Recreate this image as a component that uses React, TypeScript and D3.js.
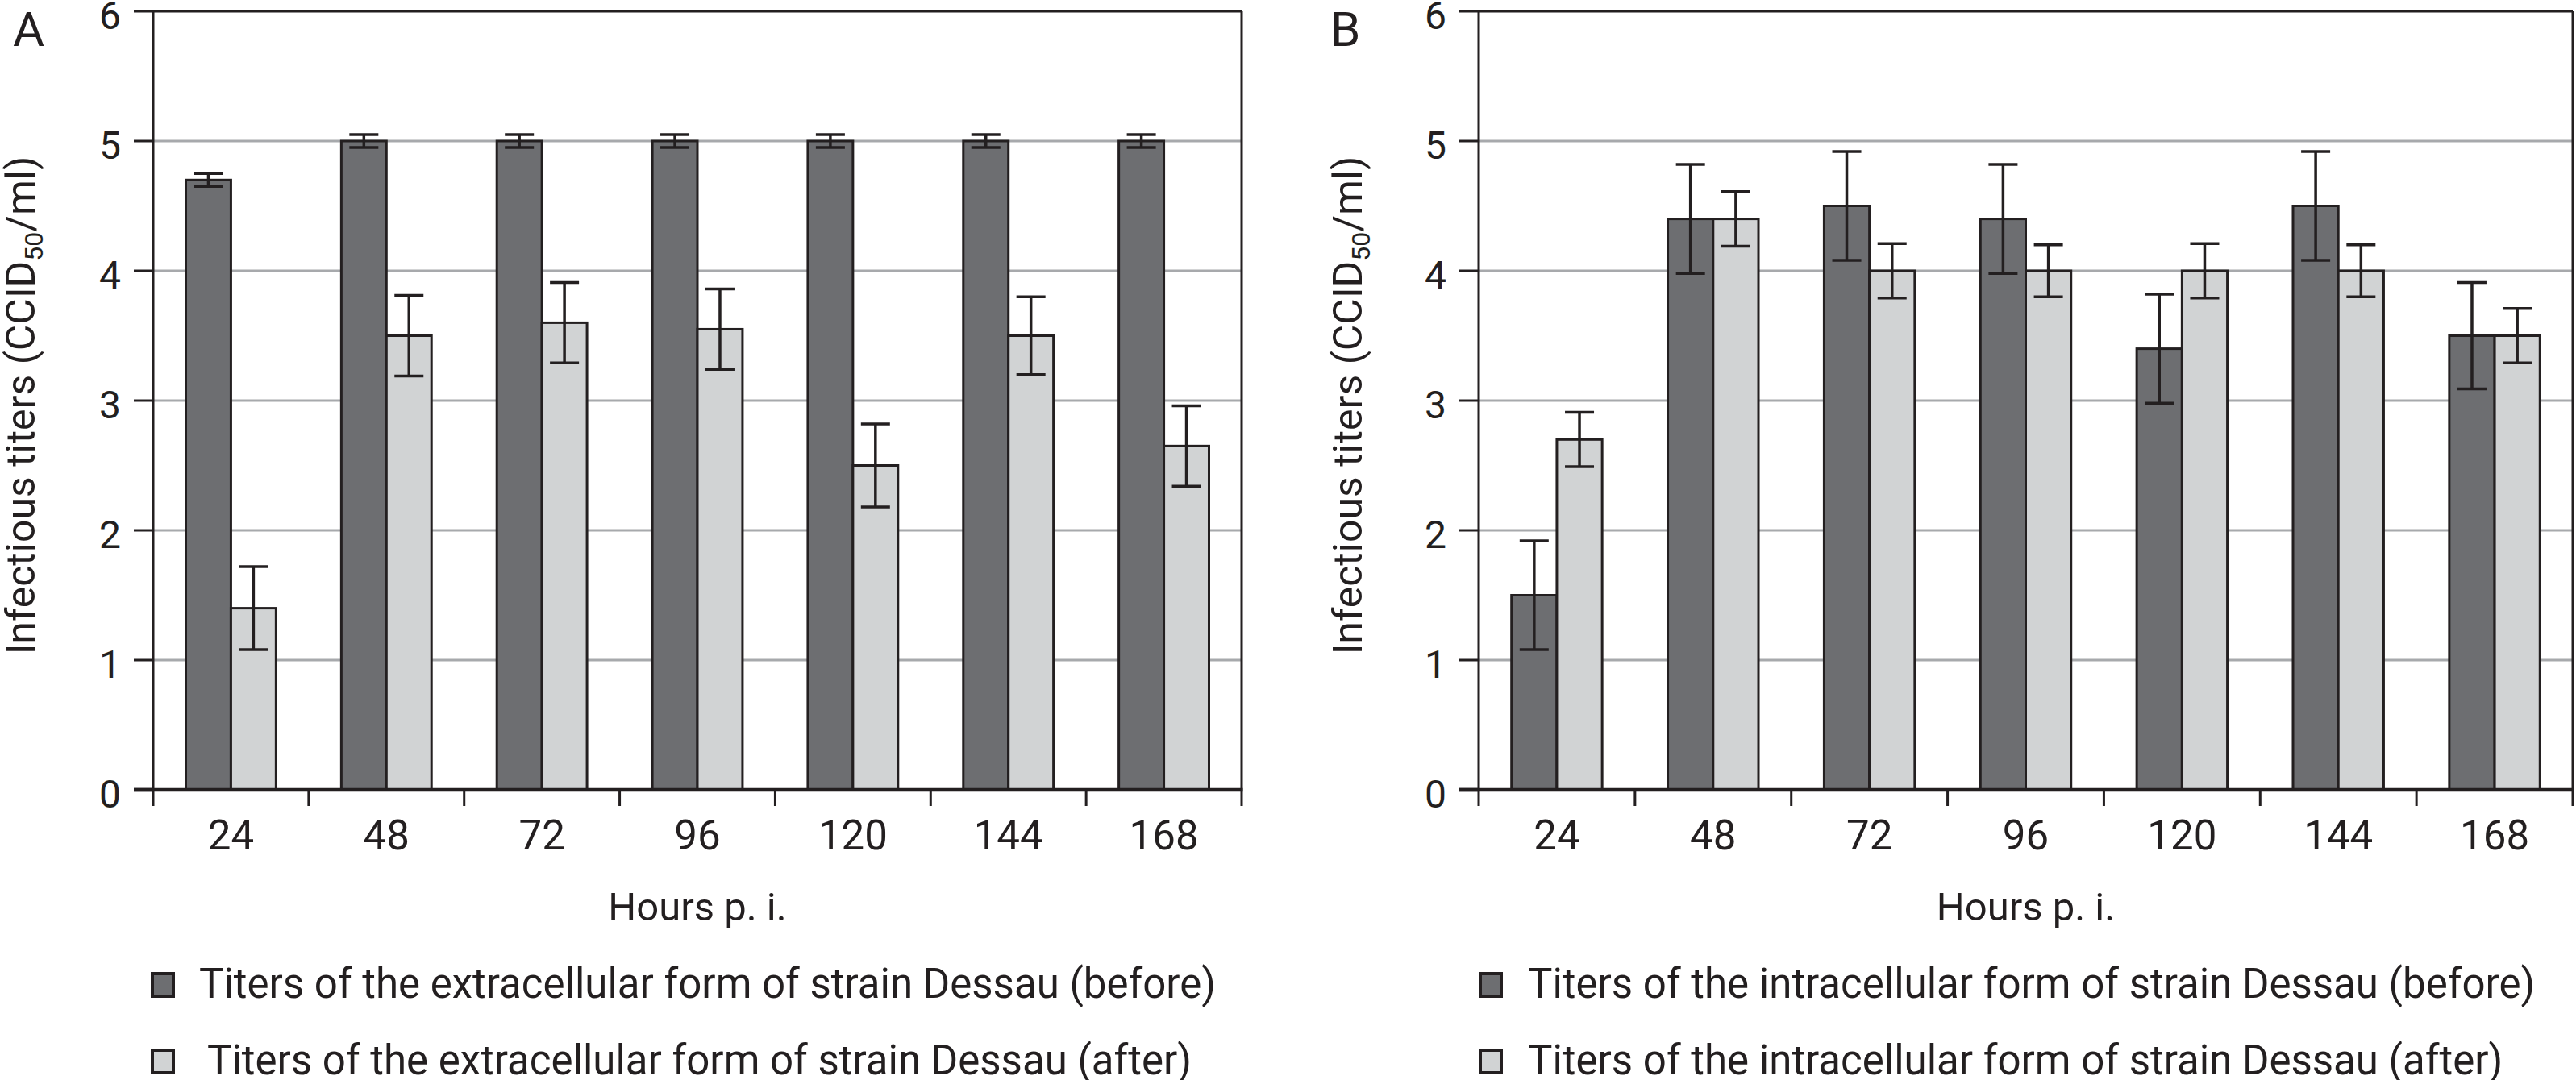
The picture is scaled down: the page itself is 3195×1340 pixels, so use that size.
import React from "react";
import * as d3 from "d3";

const HOURS = ["24", "48", "72", "96", "120", "144", "168"];
const Y_TICKS = [0, 1, 2, 3, 4, 5, 6];
const GRID_VALUES = [1, 2, 3, 4, 5];

const extraBefore = [4.7, 5.0, 5.0, 5.0, 5.0, 5.0, 5.0];
const extraBeforeErr = [0.05, 0.05, 0.05, 0.05, 0.05, 0.05, 0.05];
const extraAfter = [1.4, 3.5, 3.6, 3.55, 2.5, 3.5, 2.65];
const extraAfterErr = [0.32, 0.31, 0.31, 0.31, 0.32, 0.3, 0.31];

const intraBefore = [1.5, 4.4, 4.5, 4.4, 3.4, 4.5, 3.5];
const intraBeforeErr = [0.42, 0.42, 0.42, 0.42, 0.42, 0.42, 0.41];
const intraAfter = [2.7, 4.4, 4.0, 4.0, 4.0, 4.0, 3.5];
const intraAfterErr = [0.21, 0.21, 0.21, 0.2, 0.21, 0.2, 0.21];

const LEGEND_A = [
  "Titers of the extracellular form of strain Dessau (before)",
  "Titers of the extracellular form of strain Dessau (after)",
];
const LEGEND_B = [
  "Titers of the intracellular form of strain Dessau (before)",
  "Titers of the intracellular form of strain Dessau (after)",
];

const INK = "#231f20";
const DARK = "#6d6e71";
const LIGHT = "#d1d3d4";
const GRID = "#a7a9ac";
const FONT = "Roboto, 'Open Sans', sans-serif";

type PanelProps = {
  letter: string;
  letterX: number;
  titleX: number;
  left: number;
  right: number;
  before: number[];
  beforeErr: number[];
  after: number[];
  afterErr: number[];
  legend: string[];
  legendSquareX: number;
  legendTextX: number[];
};

function Panel(p: PanelProps) {
  const top = 14;
  const bottom = 980;
  const x = d3.scaleBand<string>().domain(HOURS).range([p.left, p.right]).padding(0);
  const y = d3.scaleLinear().domain([0, 6]).range([bottom, top]);
  const bw = x.bandwidth() * 0.29;
  const cap = 18;
  const series = [
    { vals: p.before, errs: p.beforeErr, fill: DARK, off: -bw },
    { vals: p.after, errs: p.afterErr, fill: LIGHT, off: 0 },
  ];
  const tickLen = 24;
  const boundaries = [...HOURS.map((h) => x(h) as number), p.right];

  return (
    <g>
      <text x={p.letterX} y={57} fontSize={60} fontFamily={FONT} fill={INK}>
        {p.letter}
      </text>
      {GRID_VALUES.map((v) => (
        <line key={v} x1={p.left} x2={p.right} y1={y(v)} y2={y(v)} stroke={GRID} strokeWidth={3} />
      ))}
      {series.map((s, si) =>
        HOURS.map((h, i) => {
          const cx = (x(h) as number) + x.bandwidth() / 2;
          return (
            <rect
              key={`b${si}-${i}`}
              x={cx + s.off}
              y={y(s.vals[i])}
              width={bw}
              height={y(0) - y(s.vals[i])}
              fill={s.fill}
              stroke={INK}
              strokeWidth={3}
            />
          );
        })
      )}
      {series.map((s, si) =>
        HOURS.map((h, i) => {
          const cx = (x(h) as number) + x.bandwidth() / 2 + s.off + bw / 2;
          const hi = y(s.vals[i] + s.errs[i]);
          const lo = y(s.vals[i] - s.errs[i]);
          return (
            <g key={`e${si}-${i}`} stroke={INK} strokeWidth={3.5}>
              <line x1={cx} x2={cx} y1={hi} y2={lo} />
              <line x1={cx - cap} x2={cx + cap} y1={hi} y2={hi} />
              <line x1={cx - cap} x2={cx + cap} y1={lo} y2={lo} />
            </g>
          );
        })
      )}
      <line x1={p.left} x2={p.left} y1={top} y2={bottom} stroke={INK} strokeWidth={3} />
      <line x1={p.right} x2={p.right} y1={top} y2={bottom} stroke={INK} strokeWidth={3} />
      <line x1={p.left} x2={p.right} y1={top} y2={top} stroke={INK} strokeWidth={3} />
      <line x1={p.left - tickLen} x2={p.right + 1.5} y1={bottom} y2={bottom} stroke={INK} strokeWidth={4.5} />
      {Y_TICKS.map((v) => (
        <g key={`yt${v}`}>
          <line x1={p.left - tickLen} x2={p.left} y1={y(v)} y2={y(v)} stroke={INK} strokeWidth={v === 0 ? 4.5 : 3} />
          <text
            x={p.left - 40}
            y={y(v) + 22}
            textAnchor="end"
            fontSize={48}
            fontFamily={FONT}
            fill={INK}
          >
            {v}
          </text>
        </g>
      ))}
      {boundaries.map((bx, i) => (
        <line key={`xt${i}`} x1={bx} x2={bx} y1={bottom} y2={bottom + 20} stroke={INK} strokeWidth={3} />
      ))}
      {HOURS.map((h) => (
        <text
          key={`xl${h}`}
          x={(x(h) as number) + x.bandwidth() / 2}
          y={1054}
          textAnchor="middle"
          fontSize={51}
          fontFamily={FONT}
          fill={INK}
        >
          {h}
        </text>
      ))}
      <text
        x={(p.left + p.right) / 2}
        y={1142}
        textAnchor="middle"
        fontSize={49}
        fontFamily={FONT}
        fill={INK}
      >
        Hours p. i.
      </text>
      <text
        transform={`translate(${p.titleX},${503}) rotate(-90)`}
        textAnchor="middle"
        fontSize={50}
        fontFamily={FONT}
        fill={INK}
      >
        Infectious titers (CCID
        <tspan fontSize={32} dy={10}>
          50
        </tspan>
        <tspan dy={-10}>/ml)</tspan>
      </text>
      {p.legend.map((t, i) => (
        <g key={`lg${i}`}>
          <rect
            x={p.legendSquareX}
            y={1208 + i * 95}
            width={26}
            height={28}
            fill={i === 0 ? DARK : LIGHT}
            stroke={INK}
            strokeWidth={4}
          />
          <text
            x={p.legendTextX[i]}
            y={1238 + i * 95}
            fontSize={51}
            fontFamily={FONT}
            fill={INK}
          >
            {t}
          </text>
        </g>
      ))}
    </g>
  );
}

export default function App() {
  return (
    <svg
      width={3195}
      height={1340}
      viewBox="0 0 3195 1340"
      style={{ position: "absolute", left: 0, top: 0, background: "#ffffff" }}
    >
      <rect x={0} y={0} width={3195} height={1340} fill="#ffffff" />
      <Panel
        letter="A"
        letterX={16}
        titleX={43}
        left={190}
        right={1540}
        before={extraBefore}
        beforeErr={extraBeforeErr}
        after={extraAfter}
        afterErr={extraAfterErr}
        legend={LEGEND_A}
        legendSquareX={189}
        legendTextX={[247, 257]}
      />
      <Panel
        letter="B"
        letterX={1650}
        titleX={1689}
        left={1834}
        right={3191}
        before={intraBefore}
        beforeErr={intraBeforeErr}
        after={intraAfter}
        afterErr={intraAfterErr}
        legend={LEGEND_B}
        legendSquareX={1836}
        legendTextX={[1895, 1895]}
      />
    </svg>
  );
}
